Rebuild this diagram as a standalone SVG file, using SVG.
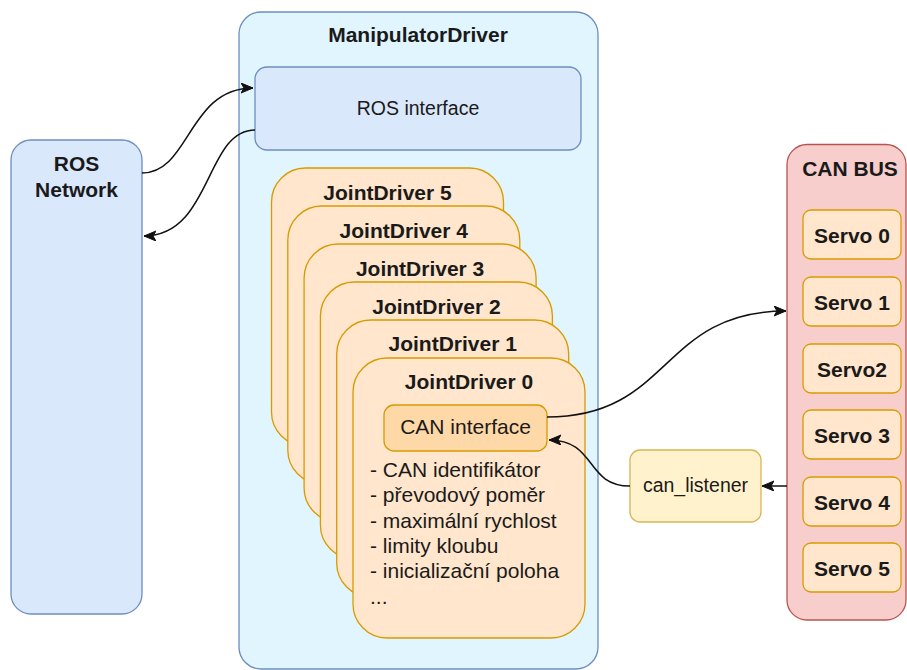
<svg xmlns="http://www.w3.org/2000/svg" width="907" height="670" viewBox="0 0 907 670">
  <style>
    .blue { fill: #dae8fc; stroke: #6c8ebf; stroke-width: 1.3; }
    .container { fill: #e1f5fe; stroke: #6c8ebf; stroke-width: 1.3; }
    .joint { fill: #ffe6cc; stroke: #d79b00; stroke-width: 1.3; }
    .canif { fill: #ffd8a8; stroke: #d79b00; stroke-width: 1.3; }
    .bus { fill: #f8cecc; stroke: #b85450; stroke-width: 1.3; }
    .listener { fill: #fff2cc; stroke: #d6b656; stroke-width: 1.3; }
    text { font-family: "Liberation Sans", Arial, sans-serif; fill: #1a1a1a; }
    .b { font-weight: bold; font-size: 21px; text-anchor: middle; }
    .r { font-size: 19.5px; text-anchor: middle; }
    .lst { font-size: 21px; }
    .edge { fill: none; stroke: #111; stroke-width: 1.5; }
  </style>
  <defs>
    <marker id="arrow" markerUnits="userSpaceOnUse" markerWidth="14" markerHeight="12" refX="12" refY="5" orient="auto" viewBox="0 0 14 12">
      <path d="M0,0 L12,5 L0,10 L3,5 z" fill="#111" stroke="#111" stroke-width="1"/>
    </marker>
  </defs>

  <!-- external ROS network -->
  <g id="ros-network">
    <rect class="blue" x="11" y="140" width="131" height="474" rx="20"/>
    <text class="b" x="76.5" y="171">ROS</text>
    <text class="b" x="76.5" y="197">Network</text>
  </g>

  <!-- driver container -->
  <g id="manipulator-driver">
    <rect class="container" x="239" y="12" width="359" height="657" rx="22"/>
    <text class="b" x="418" y="42">ManipulatorDriver</text>
  </g>

  <g id="ros-interface">
    <rect class="blue" x="255" y="67" width="326" height="83" rx="12"/>
    <text class="r" x="418" y="115">ROS interface</text>
  </g>

  <!-- stacked joint drivers, back to front -->
  <g id="joint-driver-5">
    <rect class="joint" x="271.5" y="168" width="232" height="278" rx="34"/>
    <text class="b" x="387.5" y="200">JointDriver 5</text>
  </g>
  <g id="joint-driver-4">
    <rect class="joint" x="287.8" y="206" width="232" height="278" rx="34"/>
    <text class="b" x="403.8" y="238">JointDriver 4</text>
  </g>
  <g id="joint-driver-3">
    <rect class="joint" x="304.1" y="244" width="232" height="278" rx="34"/>
    <text class="b" x="420.1" y="276">JointDriver 3</text>
  </g>
  <g id="joint-driver-2">
    <rect class="joint" x="320.4" y="282" width="232" height="277" rx="34"/>
    <text class="b" x="436.4" y="314">JointDriver 2</text>
  </g>
  <g id="joint-driver-1">
    <rect class="joint" x="336.7" y="320" width="232" height="277" rx="34"/>
    <text class="b" x="452.7" y="351">JointDriver 1</text>
  </g>
  <g id="joint-driver-0">
    <rect class="joint" x="353" y="358" width="232" height="280" rx="34"/>
    <text class="b" x="469" y="389">JointDriver 0</text>
    <text class="lst" x="370" y="477">- CAN identifikátor</text>
    <text class="lst" x="370" y="502">- převodový poměr</text>
    <text class="lst" x="370" y="527.5">- maximální rychlost</text>
    <text class="lst" x="370" y="553">- limity kloubu</text>
    <text class="lst" x="370" y="578">- inicializační poloha</text>
    <text class="lst" x="370" y="604" font-size="16">...</text>
  </g>

  <g id="can-interface">
    <rect class="canif" x="384" y="405" width="163" height="46" rx="10"/>
    <text class="lst" x="465.5" y="434" text-anchor="middle">CAN interface</text>
  </g>

  <g id="can-listener">
    <rect class="listener" x="630" y="450" width="131" height="72" rx="10"/>
    <text class="r" x="695.5" y="492">can_listener</text>
  </g>

  <!-- CAN bus with servos -->
  <g id="can-bus">
    <rect class="bus" x="787" y="144.5" width="119" height="475.5" rx="20"/>
    <text class="b" x="850" y="176">CAN BUS</text>
  </g>
  <g id="servo-0">
    <rect class="joint" x="803" y="210" width="98" height="49" rx="8"/>
    <text class="b" x="852" y="243">Servo 0</text>
  </g>
  <g id="servo-1">
    <rect class="joint" x="803" y="277" width="98" height="49" rx="8"/>
    <text class="b" x="852" y="310">Servo 1</text>
  </g>
  <g id="servo-2">
    <rect class="joint" x="803" y="344" width="98" height="49" rx="8"/>
    <text class="b" x="852" y="377">Servo2</text>
  </g>
  <g id="servo-3">
    <rect class="joint" x="803" y="410" width="98" height="49" rx="8"/>
    <text class="b" x="852" y="443">Servo 3</text>
  </g>
  <g id="servo-4">
    <rect class="joint" x="803" y="477" width="98" height="49" rx="8"/>
    <text class="b" x="852" y="510">Servo 4</text>
  </g>
  <g id="servo-5">
    <rect class="joint" x="803" y="543" width="98" height="49" rx="8"/>
    <text class="b" x="852" y="576">Servo 5</text>
  </g>

  <!-- connectors -->
  <g id="connectors">
    <path class="edge" d="M142,173 C190,173 188,88 253,88" marker-end="url(#arrow)"/>
    <path class="edge" d="M255,130 C205,130 212,236 144,236" marker-end="url(#arrow)"/>
    <path class="edge" d="M547,417 C672,417 660,311 786,311" marker-end="url(#arrow)"/>
    <path class="edge" d="M787,486 L762,486" marker-end="url(#arrow)"/>
    <path class="edge" d="M630,486 C585,486 597,440 549,440" marker-end="url(#arrow)"/>
  </g>
</svg>
